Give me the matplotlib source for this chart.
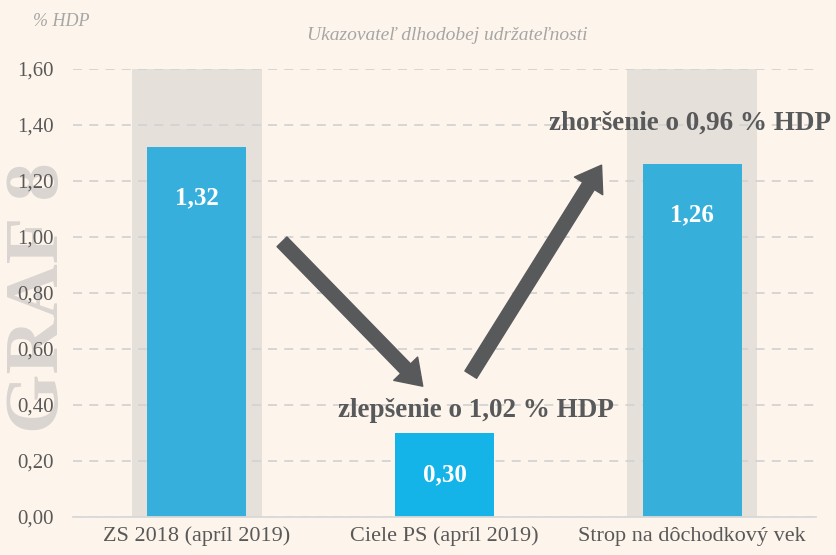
import matplotlib.pyplot as plt
from matplotlib.patches import FancyArrowPatch

categories = ['ZS 2018 (apríl 2019)', 'Ciele PS (apríl 2019)', 'Strop na dôchodkový vek']
values = [1.32, 0.30, 1.26]
value_labels = ['1,32', '0,30', '1,26']
highlight = [1.6, 0, 1.6]
yticks = [0, 0.2, 0.4, 0.6, 0.8, 1.0, 1.2, 1.4, 1.6]

bg = '#FDF5EC'
bar_colors = ['#36AFDC', '#14B4E8', '#36B0DA']
plt.rcParams['font.family'] = ['Liberation Serif', 'DejaVu Serif']

fig = plt.figure(figsize=(8.37, 5.55), dpi=100, facecolor=bg)
ax = fig.add_axes([73/837, 38/555, 743/837, 448/555], facecolor=bg)

x = range(len(categories))
ax.bar(x, highlight, width=0.525, color='#E6E0DA', zorder=1)
ax.bar(x, values, width=0.4, color=bar_colors, zorder=3)

for i, (v, lab) in enumerate(zip(values, value_labels)):
    ax.text(i, v - 0.18 if v > 1 else v / 2, lab, ha='center', va='center',
            color='white', fontsize=18, fontweight='bold', zorder=4)

ax.set_xlim(-0.5, 2.5)
ax.set_ylim(0, 1.6)
ax.set_yticks(yticks)
ax.set_yticklabels([f'{t:.2f}'.replace('.', ',') for t in yticks])
ax.set_xticks(list(x))
ax.set_xticklabels(categories)
ax.tick_params(axis='both', length=0, colors='#595959')
ax.tick_params(axis='y', pad=14, labelsize=15)
ax.tick_params(axis='x', pad=7, labelsize=16)

ax.grid(axis='y', color='#D3D3D3', linestyle=(0, (5, 4)), linewidth=1.3, zorder=2)
for s in ['top', 'right', 'left']:
    ax.spines[s].set_visible(False)
ax.spines['bottom'].set_color('#D9D9D9')
ax.spines['bottom'].set_linewidth(1.3)
ax.spines['bottom'].set_zorder(5)

# arrows
style = 'simple,head_length=1.1,head_width=1.5,tail_width=0.62'
for start, end in [((0.336, 0.99), (0.92, 0.46)), ((1.10, 0.50), (1.64, 1.265))]:
    ax.add_patch(FancyArrowPatch(start, end, arrowstyle=style, mutation_scale=16,
                                 color='#58595B', zorder=6, clip_on=False))

ax.text(1.127, 0.379, 'zlepšenie o 1,02 % HDP', ha='center', va='center',
        fontsize=19.5, fontweight='bold', color='#58595B', zorder=7)
ax.text(1.99, 1.407, 'zhoršenie o 0,96 % HDP', ha='center', va='center',
        fontsize=19.5, fontweight='bold', color='#58595B', zorder=7)

fig.text(447/837, 1 - 35/555, 'Ukazovateľ dlhodobej udržateľnosti', ha='center', va='center',
         fontsize=14, style='italic', color='#A6A6A6')
fig.text(33/837, 1 - 22/555, '% HDP', ha='left', va='center',
         fontsize=13, style='italic', color='#A6A6A6')
fig.text(40/837, 1 - 298/555, 'GRAF 8', rotation=90, ha='center', va='center',
         fontsize=55, fontweight='bold', color='#DAD5D0', zorder=-1)

fig.savefig('out.png', dpi=100, facecolor=bg)
